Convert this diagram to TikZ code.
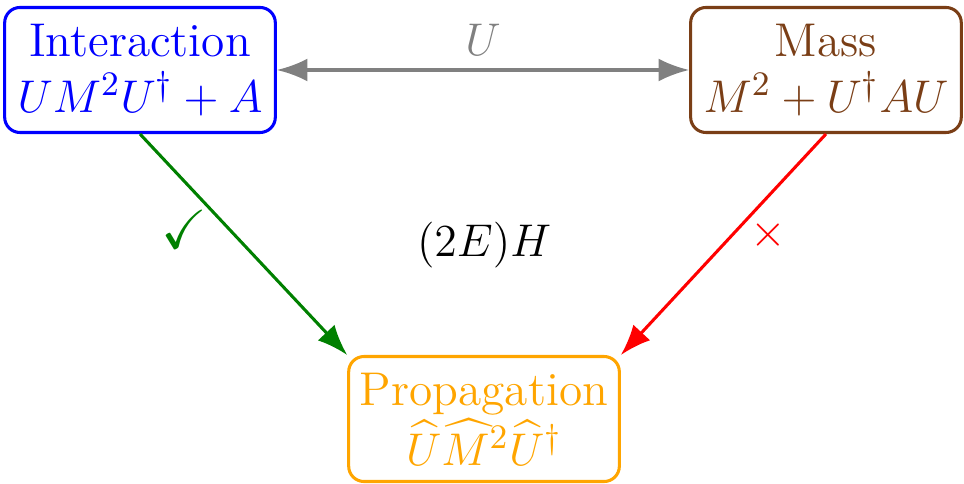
\documentclass[tikz,border=0pt]{standalone}
\usepackage{amssymb}
\usepackage{xcolor}
\usepackage{tikz}
\usetikzlibrary{arrows.meta}
\definecolor{massBrown}{HTML}{7A3E16}
\definecolor{propOrange}{HTML}{FFA500}
\definecolor{interBlue}{HTML}{0000FF}

\begin{document}
\begin{tikzpicture}[every node/.style={font=\fontsize{12.4}{14.6}\selectfont, align=center},
    basisbox/.style={draw, thick, rounded corners=4pt, minimum width=2.49cm, minimum height=1.15cm, inner sep=2pt}]
        \useasboundingbox (0,0) rectangle (8.869,4.444);

        \node (inter) [basisbox, draw=interBlue, text=interBlue] at (1.288,3.800) {Interaction \\ $UM^2U^\dagger + A$};

        \node (mass) [basisbox, draw=massBrown, text=massBrown] at (7.599,3.800) {Mass \\ $M^2 + U^\dagger A U$};

        \node (prop) [basisbox, draw=propOrange, text=propOrange] at (4.453,0.589) {Propagation \\ $\widehat{U}\widehat{M}^2\widehat{U}^\dagger$};

        \node (ham) at (4.453,2.190) {$(2E)H$};

        \draw[{Latex[length=8pt]}-{Latex[length=8pt]}, thick, gray] (inter) -- node[above, text=gray] {$U$} (mass);
        \draw[-{Latex[length=8pt]}, thick, green!50!black] (inter.south) -- node[pos=0.43, left=2pt, text=green!50!black] {\Large$\checkmark$} (prop.north west);
        \draw[-{Latex[length=8pt]}, thick, red] (mass.south) -- node[pos=0.455, right=1pt, text=red] {$\times$} (prop.north east);
    \end{tikzpicture}
\end{document}
